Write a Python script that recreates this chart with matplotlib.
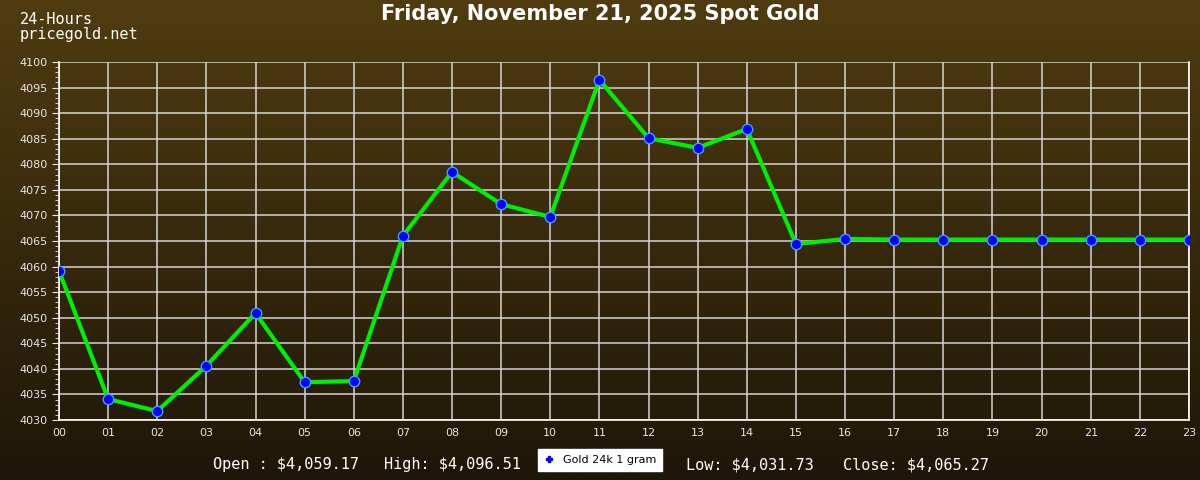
import numpy as np
import matplotlib.pyplot as plt
from matplotlib.lines import Line2D
from matplotlib.ticker import MultipleLocator

# hourly spot gold prices (USD/oz)
hours = list(range(24))
hour_labels = ['%02d' % h for h in hours]
prices = [4059.17, 4034.1, 4031.73, 4040.6, 4050.9, 4037.4, 4037.6, 4066.0,
          4078.5, 4072.2, 4069.7, 4096.51, 4085.1, 4083.2, 4086.9, 4064.4,
          4065.4, 4065.27, 4065.27, 4065.27, 4065.27, 4065.27, 4065.27, 4065.27]

title = 'Friday, November 21, 2025 Spot Gold'
stats = ['Open : $4,059.17', 'High: $4,096.51', 'Low: $4,031.73', 'Close: $4,065.27']
stats_x = [213, 384, 686, 843]  # left edge of each label, px
series_name = 'Gold 24k 1 gram'

fig = plt.figure(figsize=(12, 4.8), dpi=100)

# gradient background over whole figure
bg = fig.add_axes([0, 0, 1, 1], zorder=-10)
top = np.array([0x50, 0x3c, 0x10]) / 255
bot = np.array([0x1e, 0x16, 0x08]) / 255
t = np.linspace(0, 1, 256)[:, None]
grad = (top[None, :] * (1 - t) + bot[None, :] * t)[:, None, :]
bg.imshow(grad, aspect='auto', extent=[0, 1, 0, 1])
bg.axis('off')

ax = fig.add_axes([59 / 1200, 60 / 480, 1130 / 1200, 358 / 480])
ax.set_facecolor('none')
ax.plot(hours, prices, color='#00ee00', lw=3, zorder=3)
ax.plot(hours, prices, ls='none', marker='o', ms=7.5, mfc='#0000ff',
        mec='#3fa0ff', mew=1, zorder=4)

ax.set_xlim(0, 23)
ax.set_ylim(4030, 4100)
ax.set_xticks(hours)
ax.set_xticklabels(hour_labels)
ax.yaxis.set_major_locator(MultipleLocator(5))
ax.yaxis.set_minor_locator(MultipleLocator(1))
ax.grid(True, color='#d4d4d4', lw=1.1)
ax.tick_params(axis='x', length=0, pad=6, colors='#e6e6e6', labelsize=8)
ax.tick_params(axis='y', which='major', length=5, colors='#e6e6e6', labelsize=8)
ax.tick_params(axis='y', which='minor', length=3, colors='#e6e6e6')
for s in ax.spines.values():
    s.set_color('#ffffff')
    s.set_linewidth(1.2)
ax.spines['top'].set_visible(False)

fig.text(0.5, 1 - 14 / 480, title, ha='center', va='center', color='white',
         fontsize=15, fontweight='bold')
fig.text(20 / 1200, 1 - 19 / 480, '24-Hours', ha='left', va='center',
         color='white', family='DejaVu Sans Mono', fontsize=11)
fig.text(20 / 1200, 1 - 34 / 480, 'pricegold.net', ha='left', va='center',
         color='white', family='DejaVu Sans Mono', fontsize=11)

for label, x in zip(stats, stats_x):
    fig.text(x / 1200, 1 - 465 / 480, label, ha='left', va='center',
             color='white', family='DejaVu Sans Mono', fontsize=11,
             parse_math=False)

handle = Line2D([], [], ls='none', marker='P', ms=4, color='#0000ff')
leg = fig.legend([handle], [series_name], loc='center',
                 bbox_to_anchor=(600 / 1200, 1 - 460 / 480), fancybox=False,
                 framealpha=1, edgecolor='white', fontsize=8, handlelength=1,
                 handletextpad=0.8, borderpad=0.5)
leg.get_frame().set_facecolor('white')

plt.savefig('out.png', dpi=100)
